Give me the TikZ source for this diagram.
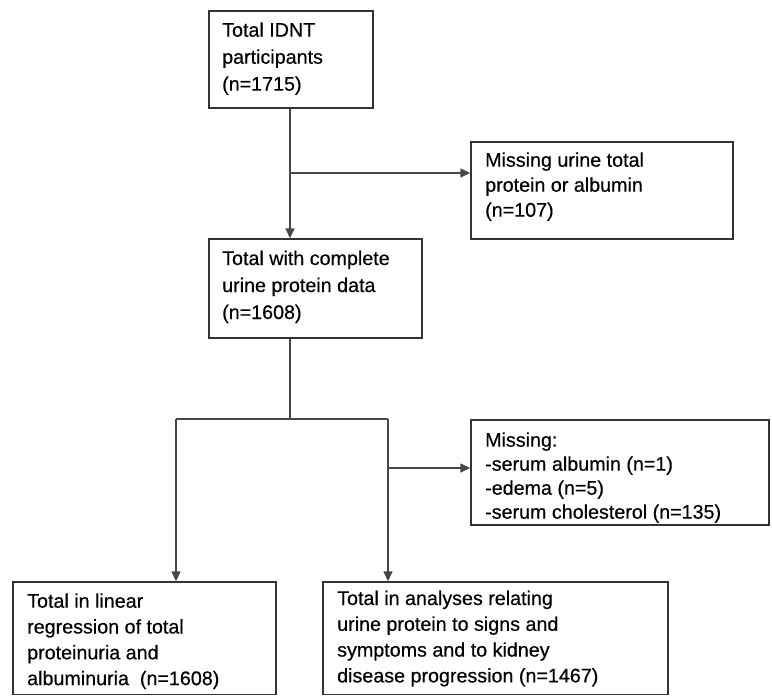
\documentclass[tikz,border=0pt]{standalone}
\usepackage{fontspec}
\setmainfont{Liberation Sans}[FakeBold=0.4]
\usetikzlibrary{arrows.meta}
\begin{document}
\begin{tikzpicture}[x=1pt,y=-1pt,
  box/.style={draw=black!80, line width=1.4pt, inner sep=0pt, fill=white},
  txt/.style={anchor=base west, align=left, inner sep=0pt, text=black},
  fa/.style={font=\fontsize{19.7}{27}\selectfont},
  fb/.style={font=\fontsize{19.7}{25.8}\selectfont},
  fc/.style={font=\fontsize{19.7}{25}\selectfont},
  fd/.style={font=\fontsize{19.7}{24}\selectfont},
  conn/.style={draw=black!72, line width=1.4pt},
  arr/.style={conn, -{Triangle[length=10pt,width=9pt]}}]
\useasboundingbox (0,0) rectangle (772,696);
% boxes
\node[box, minimum width=164pt, minimum height=97pt] (b1) at (291,59.5) {};
\node[box, minimum width=262pt, minimum height=97pt] (m1) at (602,190.5) {};
\node[box, minimum width=213pt, minimum height=99pt] (b2) at (315.5,288.5) {};
\node[box, minimum width=298pt, minimum height=105pt] (m2) at (620,472.5) {};
\node[box, minimum width=263pt, minimum height=112.5pt] (b3) at (144.5,638.25) {};
\node[box, minimum width=345pt, minimum height=112.5pt] (b4) at (495.5,638.25) {};
% texts (anchored at the baseline of their last line)
\node[txt, fa] (t1) at (222,90.7) {Total IDNT\\participants\\(n=1715)};
\node[txt, fc] (t2) at (485,216.7) {Missing urine total\\protein or albumin\\(n=107)};
\node[txt, fa] (t3) at (222,319) {Total with complete\\urine protein data\\(n=1608)};
\node[txt, fd] (t4) at (485,518.7) {Missing:\\-serum albumin (n=1)\\-edema (n=5)\\-serum cholesterol (n=135)};
\node[txt, fb] (t5) at (27,685.1) {Total in linear\\regression of total\\proteinuria and\\albuminuria\ \ (n=1608)};
\node[txt, fb] (t6) at (337,682.4) {Total in analyses relating\\urine protein to signs and\\symptoms and to kidney\\disease progression (n=1467)};
% connectors
\coordinate (j1) at (290,173);
\coordinate (j2) at (290,419);
\coordinate (jl) at (176,419);
\coordinate (jr) at (388,419);
\coordinate (j3) at (388,468);
\draw[arr] (b1.south -| j1) -- (j1 |- b2.north);
\draw[arr] (j1) -- (j1 -| m1.west);
\draw[conn] (b2.south -| j2) -- (j2);
\draw[conn] (jl) -- (jr);
\draw[arr] (jl) -- (jl |- b3.north);
\draw[arr] (jr) -- (jr |- b4.north);
\draw[arr] (j3) -- (j3 -| m2.west);
\end{tikzpicture}
\end{document}
